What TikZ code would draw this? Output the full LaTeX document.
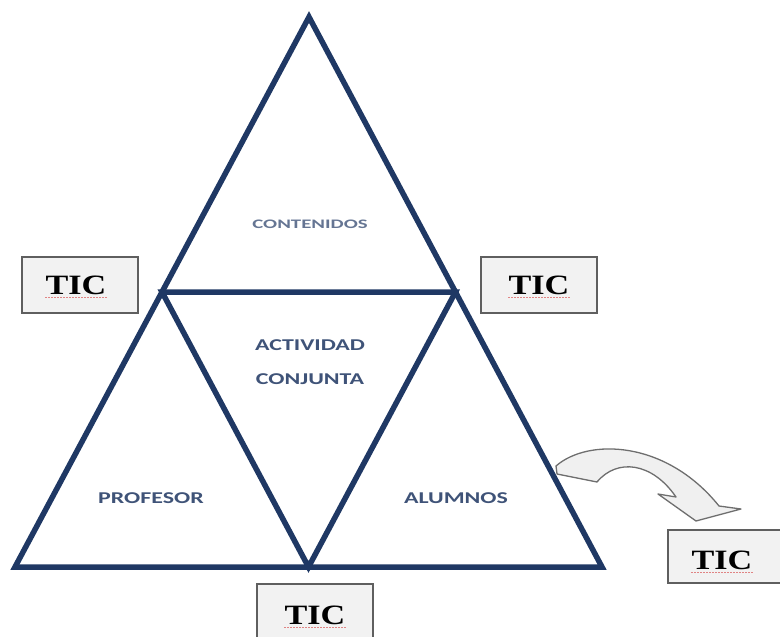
\documentclass[tikz,border=0pt]{standalone}
\usepackage{fontspec}
\setmainfont{Liberation Serif}
\newfontfamily\lblfont{Carlito}
\usetikzlibrary{calc}
\definecolor{trinavy}{HTML}{1F3864}
\definecolor{lbltext}{HTML}{3F5378}
\definecolor{boxedge}{HTML}{5F5F5F}
\definecolor{boxfill}{HTML}{F2F2F2}
\definecolor{arrowfill}{HTML}{F0F0F0}
\definecolor{arrowedge}{HTML}{6E6E6E}
\tikzset{
  tri/.style={draw=trinavy, line width=5.5pt, line join=miter},
  lbl/.style={text=lbltext, font=\lblfont\bfseries\fontsize{16.5}{16.5}\selectfont, inner sep=0pt},
  smalllbl/.style={text=lbltext!80, font=\lblfont\bfseries\fontsize{13}{13}\selectfont, inner sep=0pt},
  ticbox/.style={draw=boxedge, line width=2pt, fill=boxfill, minimum width=116pt, minimum height=56pt, inner sep=0pt},
  tictext/.style={font=\bfseries\fontsize{28}{28}\selectfont, text=black, inner sep=0pt},
  squiggle/.style={draw=red!80!black, line width=0.6pt, opacity=0.45, dash pattern=on 2pt off 1pt},
}
\newcommand{\wide}[2]{\scalebox{#1}[1]{#2}}
\begin{document}
\begin{tikzpicture}[x=1pt,y=-1pt]
\useasboundingbox (0,0) rectangle (780,637);
\clip (0,0) rectangle (780,637);

% triangle corners and edge midpoints
\coordinate (apex) at (309,17);
\coordinate (bl) at (15,567);
\coordinate (br) at (602,567);
\coordinate (ml) at ($(apex)!0.5!(bl)$);
\coordinate (mr) at ($(apex)!0.5!(br)$);
\coordinate (bm) at ($(bl)!0.5!(br)$);

% outer triangle and inner inverted triangle
\draw[tri] (apex) -- (bl) -- (br) -- cycle;
\draw[tri] (ml) -- (mr) -- (bm) -- cycle;

% labels of the four regions
\node[smalllbl] (cont) at (310,224) {\wide{1.6}{CONTENIDOS}};
\node[lbl] (act) at (310,345) {\wide{1.45}{ACTIVIDAD}};
\node[lbl] (conj) at (310,379) {\wide{1.45}{CONJUNTA}};
\node[lbl] (prof) at (151,498) {\wide{1.45}{PROFESOR}};
\node[lbl] (alum) at (456,498) {\wide{1.45}{ALUMNOS}};

% TIC boxes
\node[ticbox] (ticL) at (80,285) {};
\node[ticbox] (ticR) at (539,285) {};
\node[ticbox] (ticB) at (315,612) {};
\node[ticbox, minimum width=118pt, minimum height=53pt] (ticX) at (727,556) {};
\foreach \b/\dx/\dy in {ticL/-4/0, ticR/0/0, ticB/0/3, ticX/-5/4} {
  \node[tictext] (\b-t) at ($(\b.center)+(\dx,\dy)$) {\wide{1.22}{TIC}};
  \draw[squiggle] ($(\b-t.south west)+(0,3)$) -- ($(\b-t.south east)+(0,3)$);
}

% curved block arrow from the triangle towards the lower right box
\filldraw[fill=arrowfill, draw=arrowedge, line width=1.3pt, line join=round]
  (556,466) .. controls (588,438) and (666,440) .. (719,506)
  -- (741,509) -- (696,521) -- (658,494) -- (676,497)
  .. controls (652,462) and (617,458) .. (597,482)
  -- (557,474) -- cycle;
\end{tikzpicture}
\end{document}
